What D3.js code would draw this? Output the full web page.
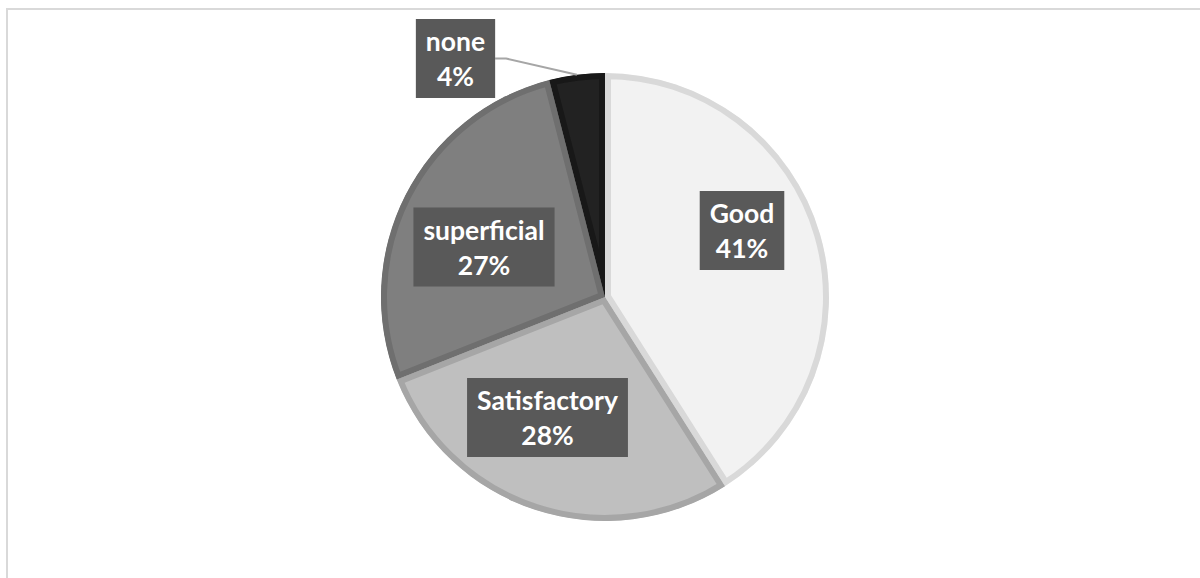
<!DOCTYPE html>
<html>
<head>
<meta charset="utf-8">
<script src="https://cdn.jsdelivr.net/npm/d3@7"></script>
<style>
  html, body { margin: 0; padding: 0; background: #ffffff; }
  svg { display: block; }
</style>
</head>
<body>
<script>
// Survey answers and their shares (percent)
const categories = ["Good", "Satisfactory", "superficial", "none"];
const shares = [41, 28, 27, 4];

// Slice fills and the darker inner rim of each slice
const fills = ["#f2f2f2", "#bfbfbf", "#7f7f7f", "#222222"];
const rims = ["#d9d9d9", "#a6a6a6", "#6f6f6f", "#181818"];

// Label box centres, relative to the pie centre
const labelOffsets = [[137, -66.5], [-57.5, 120.5], [-121, -50], [-149.5, -238.5]];

const W = 1200, H = 578;
const cx = 605, cy = 297, R = 224;

const svg = d3.select("body").append("svg")
  .attr("width", W).attr("height", H);

// chart area frame
svg.append("rect")
  .attr("x", 7).attr("y", 9)
  .attr("width", W + 20).attr("height", H + 20)
  .attr("fill", "#ffffff")
  .attr("stroke", "#d9d9d9")
  .attr("stroke-width", 2);

const data = categories.map((c, i) => ({ name: c, value: shares[i], i }));

const pie = d3.pie().value(d => d.value).sort(null);
const arc = d3.arc().innerRadius(0).outerRadius(R);
const arcs = pie(data);

const g = svg.append("g").attr("transform", `translate(${cx},${cy})`);
const defs = svg.append("defs");

arcs.forEach((a, k) => {
  defs.append("clipPath").attr("id", "slice-clip-" + k)
    .append("path").attr("d", arc(a));
});

// slices: fill plus a rim stroke clipped to the inside of each slice
g.selectAll("path.slice")
  .data(arcs)
  .join("path")
  .attr("class", "slice")
  .attr("d", arc)
  .attr("fill", d => fills[d.data.i])
  .attr("stroke", d => rims[d.data.i])
  .attr("stroke-width", 12)
  .attr("stroke-linejoin", "miter")
  .attr("clip-path", (d, k) => `url(#slice-clip-${k})`);

const edgeArc = d3.arc().innerRadius(R).outerRadius(R);
const fontFamily = "Lato, 'Open Sans', sans-serif";
const fontSize = 26.5;

const labels = g.selectAll("g.label")
  .data(arcs)
  .join("g")
  .attr("class", "label")
  .attr("transform", (d, k) => `translate(${labelOffsets[k][0]},${labelOffsets[k][1]})`);

labels.append("rect").attr("fill", "#595959");

labels.append("text")
  .attr("text-anchor", "middle")
  .attr("fill", "#ffffff")
  .attr("font-family", fontFamily)
  .attr("font-weight", "bold")
  .attr("font-size", fontSize)
  .each(function(d) {
    const t = d3.select(this);
    t.append("tspan").attr("x", 0).attr("y", -7.5).text(d.data.name);
    t.append("tspan").attr("x", 0).attr("y", 27.5).text(d.data.value + "%");
  });

labels.each(function() {
  const el = d3.select(this);
  const bb = el.select("text").node().getBBox();
  const padX = 10;
  el.select("rect")
    .attr("x", -bb.width / 2 - padX)
    .attr("y", -39.5)
    .attr("width", bb.width + 2 * padX)
    .attr("height", 79);
});

// leader line from an outside label to the edge of its thin slice
arcs.forEach((a, k) => {
  const off = labelOffsets[k];
  if (a.data.value >= 10) return;
  const box = labels.filter((d, j) => j === k).select("rect");
  const right = off[0] + (+box.attr("x")) + (+box.attr("width"));
  const [ex, ey] = edgeArc.centroid(a);
  g.insert("polyline", "g.label")
    .attr("points", [[right, off[1]], [right + 11, off[1]], [ex, ey]].map(p => p.join(",")).join(" "))
    .attr("fill", "none")
    .attr("stroke", "#a6a6a6")
    .attr("stroke-width", 2);
});
</script>
</body>
</html>
